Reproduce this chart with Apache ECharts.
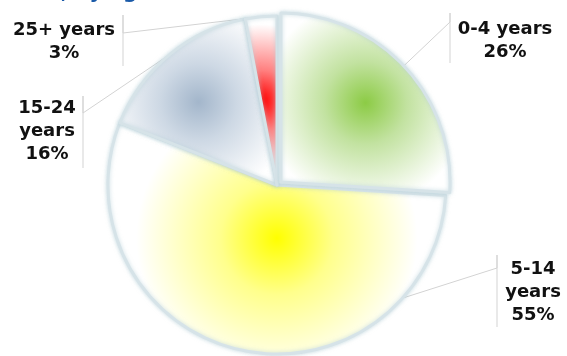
<!DOCTYPE html>
<html>
<head>
<meta charset="utf-8">
<script src="https://cdn.jsdelivr.net/npm/echarts@6/dist/echarts.min.js"></script>
<style>html,body{margin:0;padding:0;background:#fff}#c{width:567px;height:356px}</style>
</head>
<body>
<div id="c"></div>
<script>
const categories = ['0-4 years', '5-14 years', '15-24 years', '25+ years'];
const values = [26, 55, 16, 3];
const titleText = '2006, by age';

const centerColors = ['#8ccb45', '#ffff00', '#a3b6cb', '#ff0000'];
const midColors = ['#c2e2a0', '#ffff8c', '#cdd8e4', '#ff8080'];

// label placement: [centerX, centerY, barX, barTop, barBottom, joinY]
const labelPlaces = [
  [505, 41, 450, 13, 63, 22],
  [533, 292, 497, 255, 327, 268],
  [47, 131, 83, 96, 168, 113],
  [64, 42, 123, 15, 66, 33]
];

const chart = echarts.init(document.getElementById('c'), null, {renderer: 'canvas'});

function grad(i) {
  return {
    type: 'radial', x: 0.5, y: 0.5, r: i === 3 ? 2.2 : 0.6,
    colorStops: [
      {offset: 0, color: centerColors[i]},
      {offset: 0.4, color: midColors[i]},
      {offset: 1, color: '#ffffff'}
    ]
  };
}

const explodedIndex = 0;
const baseData = categories.map((n, i) => ({
  name: n,
  value: values[i],
  itemStyle: i === explodedIndex
    ? {color: 'rgba(0,0,0,0)', borderWidth: 0, shadowBlur: 0}
    : {color: grad(i)}
}));

const restTotal = values.reduce((a, b) => a + b, 0) - values[explodedIndex];
const explodedData = [
  {name: categories[explodedIndex], value: values[explodedIndex], itemStyle: {color: grad(explodedIndex)}},
  {name: 'rest', value: restTotal, itemStyle: {color: 'rgba(0,0,0,0)', borderWidth: 0, shadowBlur: 0}}
];

const commonItemStyle = {
  borderColor: '#d6e3e8', borderWidth: 3,
  shadowBlur: 4, shadowColor: 'rgba(170,200,210,0.6)'
};

chart.setOption({
  animation: false,
  title: {
    text: titleText, left: 0, top: -22,
    textStyle: {color: '#1a5aa8', fontSize: 20, fontWeight: 'bold', fontFamily: 'DejaVu Sans'}
  },
  series: [{
    type: 'pie',
    center: [277, 185],
    radius: 169,
    startAngle: 90,
    clockwise: true,
    data: baseData,
    itemStyle: commonItemStyle,
    emphasis: {disabled: true},
    label: {
      show: true,
      position: 'outside',
      align: 'center',
      color: '#111',
      fontSize: 18,
      fontWeight: 'bold',
      fontFamily: 'DejaVu Sans',
      lineHeight: 23,
      formatter: function (p) {
        const nm = (p.dataIndex === 1 || p.dataIndex === 2) ? p.name.replace(' ', '\n') : p.name;
        return nm + '\n' + p.value + '%';
      }
    },
    labelLine: {show: true, lineStyle: {color: '#d3d3d3', width: 1}},
    labelLayout: function (params) {
      const lp = labelPlaces[params.dataIndex];
      const start = params.labelLinePoints ? params.labelLinePoints[0] : [lp[2], lp[5]];
      return {
        x: lp[0], y: lp[1], align: 'center', verticalAlign: 'middle',
        labelLinePoints: [start, [lp[2], lp[5]], [lp[2], lp[3]], [lp[2], lp[4]]]
      };
    }
  }, {
    type: 'pie',
    center: [281, 182],
    radius: 169,
    startAngle: 90,
    clockwise: true,
    silent: true,
    data: explodedData,
    itemStyle: commonItemStyle,
    label: {show: false},
    labelLine: {show: false}
  }]
});
</script>
</body>
</html>
